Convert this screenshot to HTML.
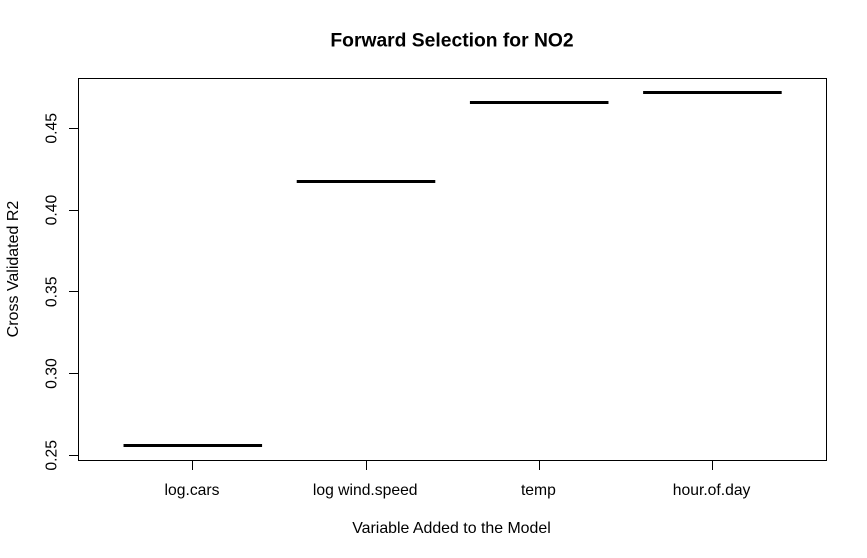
<!DOCTYPE html>
<html>
<head>
<meta charset="utf-8">
<title>Forward Selection for NO2</title>
<style>
html,body{margin:0;padding:0;background:#fff;width:867px;height:558px;overflow:hidden}
svg{display:block}
text{font-family:"Liberation Sans",Arial,sans-serif;fill:#000}
</style>
</head>
<body>
<svg id="chart" width="867" height="558" viewBox="0 0 867 558" xmlns="http://www.w3.org/2000/svg">
<rect x="0" y="0" width="867" height="558" fill="#ffffff"/>
<text x="452" y="46.5" font-size="19.3" font-weight="bold" text-anchor="middle">Forward Selection for NO2</text>
<text x="451.5" y="533" font-size="15.9" text-anchor="middle">Variable Added to the Model</text>
<text transform="translate(18,269) rotate(-90)" font-size="16" text-anchor="middle">Cross Validated R2</text>
<rect x="78.5" y="78.5" width="748" height="382" fill="none" stroke="#000" stroke-width="1"/>
<g id="marks"></g>
<g id="x-axis"></g>
<g id="y-axis"></g>
</svg>
<script>
var categories = ["log.cars", "log wind.speed", "temp", "hour.of.day"];
var r2Values = [0.2561, 0.4175, 0.4659, 0.4720];
var yTickValues = [0.25, 0.30, 0.35, 0.40, 0.45];
var yTickLabels = ["0.25", "0.30", "0.35", "0.40", "0.45"];

var NS = "http://www.w3.org/2000/svg";
function xScale(i) { return 192.8 + 173.2 * i; }
function yScale(v) { return 455.3 - (v - 0.25) * 1635; }

function make(tag, attrs, parent) {
  var el = document.createElementNS(NS, tag);
  for (var k in attrs) el.setAttribute(k, attrs[k]);
  parent.appendChild(el);
  return el;
}

var marks = document.getElementById("marks");
var xAxis = document.getElementById("x-axis");
var yAxis = document.getElementById("y-axis");

r2Values.forEach(function (v, i) {
  var y = Math.round(yScale(v) - 0.5) + 0.5;
  var seg = make("line", {
    x1: xScale(i - 0.4), x2: xScale(i + 0.4), y1: y, y2: y,
    stroke: "#000", "stroke-width": 3
  }, marks);
  
  
});

categories.forEach(function (c, i) {
  var x = Math.round(xScale(i) - 0.5) + 0.5;
  var tick = make("line", { x1: x, x2: x, y1: 460.5, y2: 470, stroke: "#000", "stroke-width": 1 }, xAxis);
  
  
  var label = make("text", { x: xScale(i) - 0.8, y: 495, "font-size": 15.7, "text-anchor": "middle" }, xAxis);
  
  
  label.textContent = c;
});

yTickValues.forEach(function (v, i) {
  var y = Math.round(yScale(v) - 0.5) + 0.5;
  var tick = make("line", { x1: 69, x2: 78.5, y1: y, y2: y, stroke: "#000", "stroke-width": 1 }, yAxis);
  
  
  var label = make("text", {
    transform: "translate(56.5," + yScale(v) + ") rotate(-90)",
    "font-size": 15.7, "text-anchor": "middle"
  }, yAxis);
  
  
  label.textContent = yTickLabels[i];
});
</script>
</body>
</html>
